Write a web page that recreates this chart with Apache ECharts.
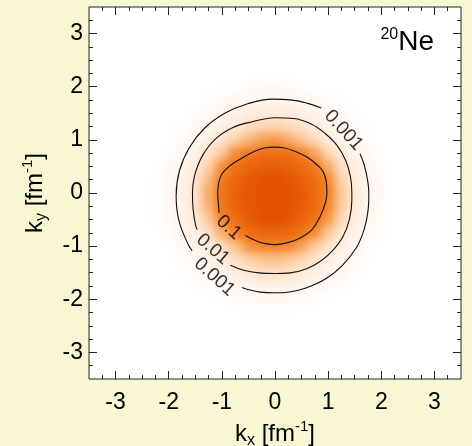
<!DOCTYPE html>
<html><head><meta charset="utf-8">
<script src="https://cdn.jsdelivr.net/npm/echarts@6/dist/echarts.min.js"></script>
<style>
html,body{margin:0;padding:0;background:#F9F7D3;}
#wrap{position:relative;width:472px;height:446px;overflow:hidden;}
.layer{position:absolute;left:0;top:0;width:472px;height:446px;}
#heat{filter:blur(4px);}
</style></head><body>
<div id="wrap"><div id="base" class="layer"></div><div id="heat" class="layer"></div><div id="front" class="layer"></div></div>
<script>
// ---- data ----
const KX = [-2.25,-2,-1.75,-1.5,-1.25,-1,-0.75,-0.5,-0.25,0,0.25,0.5,0.75,1,1.25,1.5,1.75,2,2.25];
const KY = [2.25,2,1.75,1.5,1.25,1,0.75,0.5,0.25,0,-0.25,-0.5,-0.75,-1,-1.25,-1.5,-1.75,-2,-2.25];
// log10 of momentum density, rows follow KY, columns follow KX
const LOG_DENSITY = [
[-4.5,-4.5,-4.5,-4.5,-4.5,-4.5,-4.5,-4.5,-4.5,-4.45,-4.5,-4.5,-4.5,-4.5,-4.5,-4.5,-4.5,-4.5,-4.5],
[-4.5,-4.5,-4.5,-4.5,-4.5,-4.33,-4.03,-3.82,-3.69,-3.66,-3.73,-3.89,-4.14,-4.45,-4.5,-4.5,-4.5,-4.5,-4.5],
[-4.5,-4.5,-4.5,-4.47,-4.02,-3.61,-3.29,-3.07,-2.93,-2.90,-2.97,-3.15,-3.41,-3.77,-4.21,-4.5,-4.5,-4.5,-4.5],
[-4.5,-4.5,-4.44,-3.89,-3.38,-2.95,-2.61,-2.36,-2.21,-2.18,-2.26,-2.45,-2.73,-3.12,-3.57,-4.11,-4.5,-4.5,-4.5],
[-4.5,-4.5,-4.08,-3.47,-2.95,-2.50,-2.13,-1.88,-1.75,-1.72,-1.79,-1.96,-2.27,-2.67,-3.16,-3.71,-4.33,-4.5,-4.5],
[-4.5,-4.35,-3.68,-3.06,-2.51,-2.02,-1.68,-1.43,-1.29,-1.26,-1.34,-1.52,-1.81,-2.21,-2.72,-3.30,-3.94,-4.5,-4.5],
[-4.5,-3.95,-3.24,-2.59,-2.00,-1.55,-1.20,-0.94,-0.83,-0.81,-0.87,-1.03,-1.33,-1.73,-2.23,-2.85,-3.51,-4.24,-4.5],
[-4.39,-3.63,-2.91,-2.23,-1.67,-1.20,-0.86,-0.65,-0.56,-0.54,-0.59,-0.73,-0.96,-1.37,-1.88,-2.50,-3.20,-3.94,-4.5],
[-4.22,-3.43,-2.70,-2.00,-1.44,-0.96,-0.68,-0.50,-0.36,-0.33,-0.43,-0.56,-0.79,-1.15,-1.67,-2.27,-2.99,-3.74,-4.5],
[-4.14,-3.35,-2.61,-1.92,-1.35,-0.89,-0.61,-0.43,-0.37,-0.36,-0.37,-0.49,-0.71,-1.05,-1.57,-2.18,-2.90,-3.66,-4.44],
[-4.18,-3.39,-2.65,-1.96,-1.39,-0.92,-0.64,-0.45,-0.37,-0.35,-0.40,-0.52,-0.75,-1.10,-1.61,-2.22,-2.94,-3.70,-4.47],
[-4.32,-3.54,-2.81,-2.12,-1.57,-1.09,-0.78,-0.52,-0.33,-0.31,-0.42,-0.64,-0.88,-1.27,-1.78,-2.40,-3.10,-3.85,-4.5],
[-4.5,-3.81,-3.10,-2.44,-1.86,-1.40,-1.03,-0.82,-0.70,-0.68,-0.74,-0.89,-1.17,-1.57,-2.06,-2.69,-3.37,-4.11,-4.5],
[-4.5,-4.18,-3.49,-2.85,-2.29,-1.83,-1.48,-1.23,-1.08,-1.04,-1.12,-1.31,-1.60,-1.99,-2.51,-3.11,-3.76,-4.44,-4.5],
[-4.5,-4.5,-3.87,-3.26,-2.72,-2.25,-1.89,-1.65,-1.51,-1.48,-1.55,-1.74,-2.01,-2.43,-2.93,-3.49,-4.13,-4.5,-4.5],
[-4.5,-4.5,-4.25,-3.66,-3.15,-2.70,-2.35,-2.08,-1.95,-1.92,-1.99,-2.18,-2.48,-2.87,-3.34,-3.89,-4.47,-4.5,-4.5],
[-4.5,-4.5,-4.5,-4.25,-3.76,-3.34,-3.02,-2.78,-2.64,-2.60,-2.68,-2.86,-3.14,-3.49,-3.95,-4.44,-4.5,-4.5,-4.5],
[-4.5,-4.5,-4.5,-4.5,-4.41,-4.04,-3.73,-3.50,-3.38,-3.35,-3.42,-3.58,-3.84,-4.19,-4.5,-4.5,-4.5,-4.5,-4.5],
[-4.5,-4.5,-4.5,-4.5,-4.5,-4.5,-4.46,-4.29,-4.17,-4.14,-4.21,-4.35,-4.5,-4.5,-4.5,-4.5,-4.5,-4.5,-4.5]
];
const MAJOR_TICKS = [-3,-2,-1,0,1,2,3];
const MINOR_TICKS = [-3.25,-2.75,-2.5,-2.25,-1.75,-1.5,-1.25,-0.75,-0.5,-0.25,0.25,0.5,0.75,1.25,1.5,1.75,2.25,2.5,2.75,3.25];
const AXIS_MIN = -3.5, AXIS_MAX = 3.5;
// contour lines (kx, ky); gaps left where labels sit
const CONTOUR_0_1 = [[-0.557,-0.801],[-0.338,-0.908],[-0.150,-0.958],[0,-0.971],[0.225,-0.939],[0.476,-0.845],[0.695,-0.689],[0.852,-0.438],[0.946,-0.188],[0.977,0],[0.964,0.219],[0.902,0.407],[0.789,0.532],[0.601,0.676],[0.382,0.783],[0.163,0.852],[0,0.864],[-0.182,0.852],[-0.401,0.776],[-0.651,0.639],[-0.839,0.520],[-0.996,0.363],[-1.058,0.200],[-1.077,0],[-1.064,-0.219],[-1.052,-0.376]];
const CONTOUR_0_01 = [[-0.839,-1.359],[-0.589,-1.453],[-0.307,-1.503],[0,-1.515],[0.288,-1.503],[0.595,-1.425],[0.855,-1.285],[1.080,-1.090],[1.275,-0.830],[1.400,-0.495],[1.446,-0.125],[1.446,0],[1.420,0.305],[1.330,0.610],[1.160,0.905],[0.940,1.125],[0.680,1.300],[0.351,1.403],[0,1.415],[-0.423,1.341],[-0.790,1.232],[-1.118,1.018],[-1.362,0.708],[-1.509,0.341],[-1.553,0],[-1.540,-0.313],[-1.497,-0.595],[-1.465,-0.689]];
const CONTOUR_0_001_A = [[-1.560,-1.084],[-1.635,-0.965],[-1.808,-0.521],[-1.860,-0.050],[-1.798,0.419],[-1.613,0.853],[-1.323,1.223],[-0.945,1.500],[-0.513,1.679],[-0.050,1.766],[0.288,1.753],[0.601,1.691],[0.870,1.600]];
const CONTOUR_0_001_B = [[1.600,0.740],[1.678,0.532],[1.741,0.250],[1.766,0],[1.753,-0.313],[1.679,-0.679],[1.527,-1.036],[1.265,-1.365],[0.963,-1.610],[0.583,-1.788],[0.270,-1.862],[0,-1.878],[-0.276,-1.866],[-0.557,-1.803],[-0.620,-1.776]];
const CONTOUR_LABELS = ['0.001','0.1','0.01','0.001'];
const CONTOUR_LABEL_POS = [[1.29,1.18],[-0.87,-0.65],[-1.17,-1.06],[-1.14,-1.58]];
const NUCLEUS_MASS = '20', NUCLEUS_NAME = 'Ne';

// ---- styles / layout ----
const FONT = 'Liberation Sans, Arial, Helvetica, sans-serif';
const BG = '#F9F7D3';
const GRID = {left:89, right:11, top:7, bottom:67, outerBoundsMode:'none', containLabel:false};
const LABEL_ROT = [-48,-42,-41,-42];
const INK = '#222';

const baseChart = echarts.init(document.getElementById('base'), null, {renderer:'canvas'});
baseChart.setOption({
  animation:false, backgroundColor:BG,
  grid:Object.assign({show:true, backgroundColor:'#ffffff', borderWidth:0}, GRID),
  xAxis:{type:'value', min:AXIS_MIN, max:AXIS_MAX, show:false},
  yAxis:{type:'value', min:AXIS_MIN, max:AXIS_MAX, show:false},
  series:[]
});

const heatData = [];
KY.forEach((y,i)=>KX.forEach((x,j)=>heatData.push([x, y, LOG_DENSITY[i][j]])));
const stepX = KX[1]-KX[0], stepY = KY[0]-KY[1];
const heatChart = echarts.init(document.getElementById('heat'), null, {renderer:'canvas'});
heatChart.setOption({
  animation:false, backgroundColor:'transparent',
  grid:Object.assign({}, GRID),
  xAxis:{type:'value', min:AXIS_MIN, max:AXIS_MAX, show:false},
  yAxis:{type:'value', min:AXIS_MIN, max:AXIS_MAX, show:false},
  visualMap:{type:'continuous', show:false, min:-4.5, max:-0.3, dimension:2, seriesIndex:0,
    inRange:{color:['#FFFFFF','#FFFEFD','#FFFCFA','#FFFAF6','#FFF8F2','#FFF6EF','#FEF3EA','#FEEFE3','#FEE9D7','#FDDBBD','#FCC591','#F68C35','#F0741A','#EA6208','#E04E00']}},
  series:[{
    type:'custom', data:heatData, dimensions:['kx','ky','v'], encode:{x:0, y:1},
    renderItem:function(params, api){
      const p = api.coord([api.value(0)-stepX/2, api.value(1)+stepY/2]);
      const s = api.size([stepX, stepY]);
      return {type:'rect', shape:{x:p[0], y:p[1], width:s[0]+0.6, height:s[1]+0.6}, style:{fill:api.visual('color')}};
    }
  }]
});

function axisPair(dim, pos, withLabel){
  const major = {type:'value', min:AXIS_MIN, max:AXIS_MAX, position:pos,
    axisLine:{show:false, onZero:false}, splitLine:{show:false},
    axisTick:{show:true, inside:true, length:8, customValues:MAJOR_TICKS, lineStyle:{color:INK, width:1}},
    axisLabel:withLabel ? {show:true, customValues:MAJOR_TICKS, fontSize:23, color:'#000', fontFamily:FONT, margin: dim==='x' ? 12 : 6} : {show:false}
  };
  const minor = {type:'value', min:AXIS_MIN, max:AXIS_MAX, position:pos,
    axisLine:{show:false, onZero:false}, splitLine:{show:false},
    axisTick:{show:true, inside:true, length:4, customValues:MINOR_TICKS, lineStyle:{color:INK, width:1}},
    axisLabel:{show:false}
  };
  return [major, minor];
}
const richName = {
  i:{fontSize:24, fontFamily:FONT, color:'#000', lineHeight:30},
  sub:{fontSize:16, fontFamily:FONT, color:'#000', lineHeight:15, verticalAlign:'bottom'},
  sup:{fontSize:15, fontFamily:FONT, color:'#000', lineHeight:14, verticalAlign:'top'}
};
const xAxes = axisPair('x','bottom',true).concat(axisPair('x','top',false));
xAxes[0].name = '{i|k}{sub|x}{i| [fm}{sup|-1}{i|]}';
xAxes[0].nameLocation = 'middle';
xAxes[0].nameGap = 39;
xAxes[0].nameTextStyle = {rich:richName};
const yAxes = axisPair('y','left',true).concat(axisPair('y','right',false));
yAxes[0].name = '{i|k}{sub|y}{i| [fm}{sup|-1}{i|]}';
yAxes[0].nameLocation = 'middle';
yAxes[0].nameGap = 39;
yAxes[0].nameTextStyle = {rich:richName};

const lineStyle = {color:'#111', width:1.1};
const frontChart = echarts.init(document.getElementById('front'), null, {renderer:'canvas'});
frontChart.setOption({
  animation:false, backgroundColor:'transparent',
  grid:Object.assign({show:true, backgroundColor:'transparent', borderColor:INK, borderWidth:1}, GRID),
  title:{text:'{sup|'+NUCLEUS_MASS+'}{ne|'+NUCLEUS_NAME+'}', right:38, top:27, padding:0,
    textStyle:{fontWeight:'normal', rich:{
      sup:{fontSize:16, fontFamily:FONT, fontWeight:'normal', color:'#000', lineHeight:16, verticalAlign:'top'},
      ne:{fontSize:28, fontFamily:FONT, fontWeight:'normal', color:'#000', lineHeight:30}
    }}},
  xAxis:xAxes, yAxis:yAxes,
  series:[
    {type:'line', data:CONTOUR_0_1, symbol:'none', smooth:0.4, lineStyle:lineStyle, silent:true},
    {type:'line', data:CONTOUR_0_01, symbol:'none', smooth:0.4, lineStyle:lineStyle, silent:true},
    {type:'line', data:CONTOUR_0_001_A, symbol:'none', smooth:0.4, lineStyle:lineStyle, silent:true},
    {type:'line', data:CONTOUR_0_001_B, symbol:'none', smooth:0.4, lineStyle:lineStyle, silent:true},
    {type:'scatter', symbolSize:0, silent:true,
      data:CONTOUR_LABELS.map((t,i)=>({value:CONTOUR_LABEL_POS[i],
        label:{show:true, formatter:t, rotate:LABEL_ROT[i], position:'inside', fontSize:19, fontFamily:FONT, color:'#000'}}))}
  ]
});
</script>
</body></html>
